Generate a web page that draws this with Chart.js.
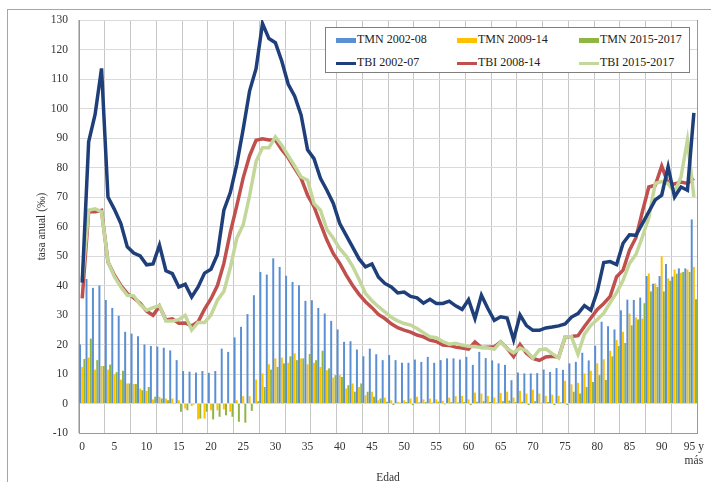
<!DOCTYPE html>
<html lang="es">
<head>
<meta charset="UTF-8">
<title>Tasa anual por edad</title>
<script src="https://cdn.jsdelivr.net/npm/chart.js"></script>
<style>
    body { margin: 0; background: #fff; }
    #wrap { position: relative; width: 711px; height: 482px; overflow: hidden; }
    #frame { position: absolute; left: 7px; top: 9px; width: 720px; height: 500px; border: 1px solid #a6a6a6; }
    #legend { position: absolute; left: 325px; top: 27px; width: 363px; height: 44px; background: #fff;
              border: 1px solid #7f7f7f; font-family: 'Liberation Serif', 'Times New Roman', serif; font-size: 12px; color: #222; }
    .item { position: absolute; white-space: nowrap; line-height: 14px; }
    .sw { display: inline-block; width: 20px; vertical-align: middle; margin-right: 1px; }
</style>
</head>
<body>
<div id="wrap">
    <div id="frame"></div>
    <canvas id="tasaChart" width="711" height="482"></canvas>
    <div id="legend"></div>
</div>

<script>
    // edades 0..95 y más
    var edades = [];
    for (var e = 0; e < 95; e++) edades.push(String(e));
    edades.push('95 y más');

    // TMN (barras)
    var tmn2002 = [20,42.2,39.2,40,35.1,32.4,29.7,24.3,23.7,22.8, 20,19.5,19.3,18.9,18,14.7,11,10.8,10.5,11,
        10.4,11,18.6,17.5,22.4,26,30.3,36.7,44.6,43.7, 49.2,46.3,43.3,41.2,40.1,34.8,35,32.4,30.5,28,
        25.1,20.9,21.1,18.3,16,18.6,16.7,14.7,16.4,14.7, 13.8,13.8,14.9,14.1,15.8,13.8,14.7,15.3,15.3,14.9,
        15.8,13.1,17.5,15.4,14.6,13.6,13.1,7.9,10.5,10.2, 10.2,10.3,11.5,10.7,12,11.4,13.6,14.1,17.2,14.6,
        19.6,27.7,26.2,25.1,31.6,35.2,35.1,35.9,43.2,40.6, 43.2,47.3,43,45.8,45.8,62.4];
    var tmn2009 = [12.4,15.6,11.5,12.7,11.5,9.9,8.1,6.8,6.6,5.1, 4.3,1.4,2.3,1.7,1.7,1.1,-1.7,-0.9,-5.4,-5.1,
        -2.3,-2.3,-2,-2.8,1.1,2.5,2.5,8.1,10.2,13.3, 15.3,15.6,13.8,17,15.3,13.3,13.8,12.4,11.3,8.8,
        9.6,5.1,6.8,5.6,2.8,4,1.1,2,1.1,0.6, 1.1,1.7,2.3,1.4,1.7,1.4,0.9,2,2.5,2.6,
        1.4,3.7,3.4,2.6,2,3.6,4,2,4.3,3.4, 4.7,3.4,2.6,3,2.6,7.7,6.5,7,10.2,11.1,
        13.6,15,17.9,21.5,24.3,30.5,29.2,28.8,44.1,40.7, 49.9,42.4,45.4,44.3,45.4,46.3];
    var tmn2015 = [15.1,22,14.7,12.7,13.2,10.6,11.1,6.8,6.6,4.5, 5.6,2.3,1.7,1.1,0.2,-2.8,-2.3,-0.3,-5.1,-2.8,
        -5.4,-4.5,-4,-4.5,-6.2,-6.5,-2.5,0.8,5.6,11.5, 12.4,13.6,16,14.7,15.3,16.8,14.7,17.9,11.9,9.6,
        9,6.2,4,6.8,4,2.3,1.7,0.6,-0.5,0.3, 0.5,-0.5,0.4,0.5,0.3,0.6,-0.3,0.5,0.4,0.5,
        -0.5,0.6,0.8,0.5,0.3,0.8,1,0.5,0.6,-0.5, 0.8,0.3,0.5,-0.5,0.4,-0.5,4,3.4,5.6,7.3,
        9.6,8,16,19.5,20.5,26.5,28.5,34,38,39.5, 38,41.6,44,44.6,44.6,35.3];

    // TBI (lineas)
    var tbi2002 = [41,88.7,98,113.6,70,65.8,61,53.1,51,50, 47,47.3,53.7,45,44,39.5,40.4,36.1,39.5,44.2,
        45.5,50.5,65.5,71.5,81,93,106,113.5,128.8,123.7, 122.3,116,108.2,104.2,97.7,86,83,76.3,72.3,67.8,
        61,57,53,49,46.3,47.3,42.9,40.7,39.5,37.5, 37.8,36.3,35.8,34,35.3,33.9,33.9,34.7,33.1,31.9,
        35.2,28.8,36.7,32.2,28.2,29.4,29,21.6,30,26.4, 24.8,24.8,25.6,25.9,26.3,27,29.3,30.5,33.2,31.6,
        38,47.8,48.1,47.1,54.3,57.2,57,61,65,69, 70.6,80.2,70,73.4,72.3,98.5];
    var tbi2008 = [35.6,65,65,65.5,48,43.5,40,37.3,35.8,34, 31.3,29.9,33,28.3,28.7,27.2,27.3,26.3,27.7,32,
        35.5,40,47.5,58,67,76.5,84,89.2,89.7,89.3, 89.3,86,83.3,79.7,76.3,70.6,66.7,61,55.4,50.8,
        47.5,43.5,40,37,34.5,32.5,30.2,28.8,27,25.7, 24.9,24.2,23.2,22.6,21.5,21,19.8,19.7,19.1,18.8,
        18.4,20.9,19,19.1,19.2,20.9,18.7,15.9,20,17, 15.3,14.6,15.8,16,15.7,22.5,22.7,23,26.1,29,
        31.9,33.9,36.3,43,45.2,52,56.2,65,73.4,74, 80.5,74.6,74.4,75.1,74.6,76.3];
    var tbi2015 = [41.8,65.5,66,65,48,43,39.5,36.7,36.5,33.5, 31.6,32.5,33.2,28,28,28.4,29.9,24.9,27.5,27.5,
        30,35,38,46,56,60.5,70.5,82,86.7,86.7, 90.4,87.5,84,80.5,76.8,75.7,67.8,65.5,59,56,
        52.5,50,46.5,42,37.3,34.8,32.8,31.1,29.2,28, 27.1,26.6,25.4,24,22.6,22.3,21,20.1,20.4,19.8,
        19.4,19.2,19,18.8,18.4,20.9,18.6,17.2,18.8,17.8, 15.4,18.2,18.5,16.9,15.4,22.6,22.6,16.7,23.5,26.5,
        28.5,30.6,34.2,37.6,41.8,47.5,50.5,56.5,63,74.6, 75.2,74.6,71.5,76.8,89.3,70];

    var serif = "'Liberation Serif', 'Times New Roman', serif";

    var series = [
        { label: 'TMN 2002-08', type: 'bar', data: tmn2002, color: '#5b8fd4' },
        { label: 'TMN 2009-14', type: 'bar', data: tmn2009, color: '#ffc000' },
        { label: 'TMN 2015-2017', type: 'bar', data: tmn2015, color: '#8fb543' },
        { label: 'TBI 2002-07', type: 'line', data: tbi2002, color: '#1f3f7a', order: 1 },
        { label: 'TBI 2008-14', type: 'line', data: tbi2008, color: '#c0504d', order: 3 },
        { label: 'TBI 2015-2017', type: 'line', data: tbi2015, color: '#c4d79b', order: 2 }
    ];

    var datasets = series.map(function(s) {
        if (s.type === 'bar') {
            return { type: 'bar', label: s.label, data: s.data, backgroundColor: s.color,
                     categoryPercentage: 1, barPercentage: 0.92, order: 10 };
        }
        return { type: 'line', label: s.label, data: s.data, borderColor: s.color, backgroundColor: s.color,
                 borderWidth: 3.5, pointRadius: 0, tension: 0, order: s.order };
    });

    new Chart(document.getElementById('tasaChart'), {
        data: { labels: edades, datasets: datasets },
        options: {
            responsive: false,
            animation: false,
            layout: { padding: { left: 0, right: 11, top: 20, bottom: 0 } },
            plugins: { legend: { display: false }, tooltip: { enabled: false } },
            scales: {
                x: {
                    offset: true,
                    grid: {
                        offset: true,
                        drawTicks: false,
                        color: function(ctx) { return ctx.index % 4 === 0 ? '#c6c6c6' : 'rgba(0,0,0,0)'; }
                    },
                    border: { color: '#999' },
                    ticks: {
                        autoSkip: false, maxRotation: 0, padding: 7, color: '#333',
                        font: { family: serif, size: 11.5 },
                        callback: function(v, i) {
                            if (i === 95) return ['95 y', 'más'];
                            return i % 5 === 0 ? edades[i] : '';
                        }
                    },
                    title: { display: true, text: 'Edad', color: '#333', font: { family: serif, size: 11.5 },
                             padding: { top: 0, bottom: -3 } },
                    afterFit: function(s) { s.height = 49; }
                },
                y: {
                    min: -10, max: 130,
                    ticks: { stepSize: 10, padding: 11, color: '#333', font: { family: serif, size: 11.5 } },
                    grid: { color: '#dadada', drawTicks: false },
                    border: { color: '#999' },
                    title: { display: true, text: 'tasa anual (‰)', color: '#333', font: { family: serif, size: 11.5 },
                             padding: { top: 35, bottom: 0 } },
                    afterFit: function(s) { s.width = 79; }
                },
                y2: {
                    position: 'right', min: -10, max: 130,
                    ticks: { display: false },
                    grid: { drawOnChartArea: false, drawTicks: false },
                    border: { color: '#999' },
                    afterFit: function(s) { s.width = 0; }
                }
            }
        }
    });

    // leyenda en recuadro dentro del area del grafico
    var legendPos = [
        [10, 4], [131, 4], [253, 4],
        [10, 27], [131, 27], [253, 27]
    ];
    var legend = document.getElementById('legend');
    series.forEach(function(s, i) {
        var item = document.createElement('div');
        item.className = 'item';
        item.style.left = legendPos[i][0] + 'px';
        item.style.top = legendPos[i][1] + 'px';
        var sw = document.createElement('span');
        sw.className = 'sw';
        sw.style.height = s.type === 'bar' ? '5px' : '3px';
        sw.style.background = s.color;
        item.appendChild(sw);
        item.appendChild(document.createTextNode(s.label));
        legend.appendChild(item);
    });
</script>
</body>
</html>
